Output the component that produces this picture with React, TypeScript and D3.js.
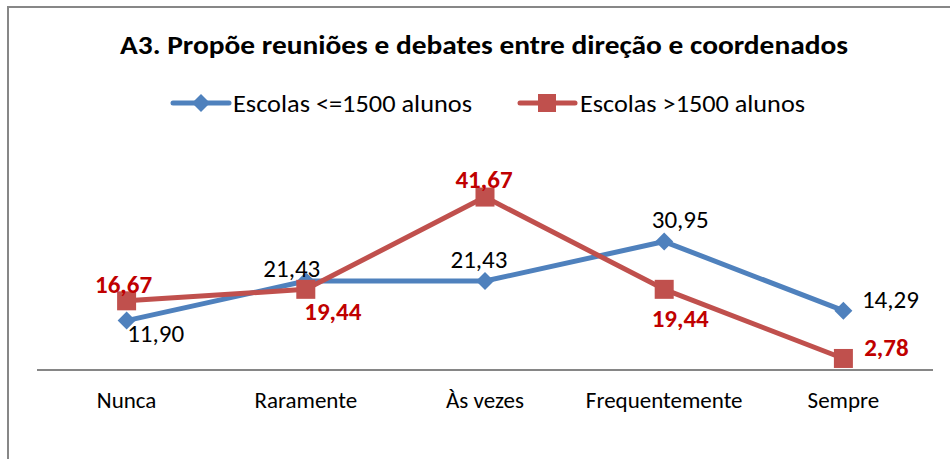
import React from "react";
import * as d3 from "d3";

const categories = ["Nunca", "Raramente", "Às vezes", "Frequentemente", "Sempre"];
const seriesNames = ["Escolas <=1500 alunos", "Escolas >1500 alunos"];
const smallSchools = [11.9, 21.43, 21.43, 30.95, 14.29];
const largeSchools = [16.67, 19.44, 41.67, 19.44, 2.78];
const title = "A3. Propõe reuniões e debates entre direção e coordenados";

// label placement offsets (label centre dx, baseline dy) relative to each point
const smallLabelOffsets = [[29, 21], [-14, -4], [-6, -13], [16, -14], [47, -3]];
const largeLabelOffsets = [[-3, -8], [27, 31], [-1, -9], [16, 38], [43, -2]];

const W = 950;
const H = 459;
const FONT = "Carlito, Calibri, Lato, 'Open Sans', sans-serif";
const BLUE = "#4F81BD";
const RED = "#C0504D";
const RED_LABEL = "#C00000";

const fmt = (v: number) => v.toFixed(2).replace(".", ",");

export default function App() {
  const x = d3.scaleBand<string>().domain(categories).range([37, 933]);
  const cx = (c: string) => (x(c) ?? 0) + x.bandwidth() / 2;
  const y = d3.scaleLinear().domain([0, 45]).range([370, 370 - 45 * 4.15]);

  const line = d3
    .line<number>()
    .x((_, i) => cx(categories[i]))
    .y((d) => y(d));

  const diamond = (px: number, py: number, r: number) =>
    `M${px},${py - r}L${px + r},${py}L${px},${py + r}L${px - r},${py}Z`;

  return (
    <div style={{ position: "absolute", left: 0, top: 0 }}>
      <svg width={W} height={H} style={{ display: "block", fontFamily: FONT }}>
        <rect x={0} y={0} width={W} height={H} fill="#fff" />
        <rect x={8} y={7} width={W + 20} height={H + 20} fill="#fff" stroke="#878787" strokeWidth={2} />

        <text x={484} y={54} textAnchor="middle" fontSize={26} fontWeight="bold" fill="#000"
          textLength={728} lengthAdjust="spacingAndGlyphs">
          {title}
        </text>

        {/* legend */}
        <g>
          <line x1={173} x2={229} y1={103} y2={103} stroke={BLUE} strokeWidth={5} strokeLinecap="round" />
          <path d={diamond(201, 103, 9)} fill={BLUE} />
          <text x={233} y={112} fontSize={25} fill="#000" textLength={239} lengthAdjust="spacingAndGlyphs">
            {seriesNames[0]}
          </text>
          <line x1={520} x2={575} y1={103} y2={103} stroke={RED} strokeWidth={5} strokeLinecap="round" />
          <rect x={538} y={94} width={18} height={18} fill={RED} />
          <text x={580} y={112} fontSize={25} fill="#000" textLength={225} lengthAdjust="spacingAndGlyphs">
            {seriesNames[1]}
          </text>
        </g>

        {/* axis */}
        <line x1={37} x2={933} y1={370} y2={370} stroke="#868686" strokeWidth={2} />
        {categories.map((c) => (
          <text key={c} x={cx(c)} y={408} textAnchor="middle" fontSize={23} fill="#000">
            {c}
          </text>
        ))}

        {/* series lines */}
        <path d={line(smallSchools) ?? ""} fill="none" stroke={BLUE} strokeWidth={5} strokeLinejoin="round" />
        <path d={line(largeSchools) ?? ""} fill="none" stroke={RED} strokeWidth={5} strokeLinejoin="round" />

        {smallSchools.map((v, i) => (
          <path key={"d" + i} d={diamond(cx(categories[i]), y(v), 9)} fill={BLUE} />
        ))}
        {largeSchools.map((v, i) => (
          <rect key={"s" + i} x={cx(categories[i]) - 9.5} y={y(v) - 9.5} width={19} height={19} fill={RED} />
        ))}

        {smallSchools.map((v, i) => (
          <text key={"ls" + i} x={cx(categories[i]) + smallLabelOffsets[i][0]} y={y(v) + smallLabelOffsets[i][1]}
            textAnchor="middle" fontSize={25} fill="#000">
            {fmt(v)}
          </text>
        ))}
        {largeSchools.map((v, i) => (
          <text key={"ll" + i} x={cx(categories[i]) + largeLabelOffsets[i][0]} y={y(v) + largeLabelOffsets[i][1]}
            textAnchor="middle" fontSize={25} fontWeight="bold" fill={RED_LABEL}>
            {fmt(v)}
          </text>
        ))}
      </svg>
    </div>
  );
}
